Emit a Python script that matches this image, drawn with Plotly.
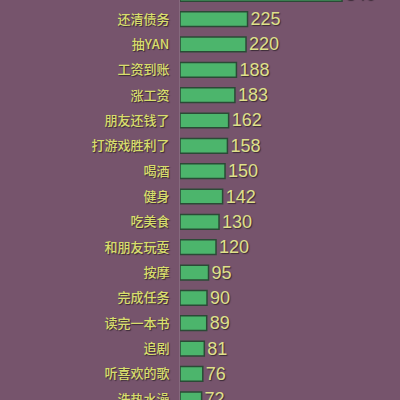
import plotly.graph_objects as go

categories = [" ", "还清债务", "抽YAN", "工资到账", "涨工资", "朋友还钱了", "打游戏胜利了", "喝酒", "健身",
              "吃美食", "和朋友玩耍", "按摩", "完成任务", "读完一本书", "追剧", "听喜欢的歌", "洗热水澡"]
values = [540, 225, 220, 188, 183, 162, 158, 150, 142, 130, 120, 95, 90, 89, 81, 76, 72]

text_colors = ["#e0a030"] + ["#dfe08a"] * (len(values) - 1)

fig = go.Figure(go.Bar(
    x=values, y=categories, orientation="h",
    marker=dict(color="#4cb56c", line=dict(color="#2b4a36", width=1.5)),
    width=0.58,
    text=[str(v) for v in values], textposition="outside", cliponaxis=True,
    constraintext="none",
    textfont=dict(family="Liberation Sans, Arial, sans-serif", size=18, color=text_colors,
                  shadow="1px 1px 1px #3a2a36"),
    hoverinfo="skip",
))

fig.update_layout(
    width=400, height=400,
    margin=dict(l=180, r=0, t=0, b=0, autoexpand=False),
    paper_bgcolor="#76546c", plot_bgcolor="#76546c",
    showlegend=False,
    xaxis=dict(range=[0, 733], showgrid=False, zeroline=False, showticklabels=False,
               fixedrange=True, automargin=False),
    yaxis=dict(type="category", range=[16.03, 0.245], autorange=False, showgrid=False,
               showline=True, linecolor="#85697d", linewidth=1, automargin=False,
               ticks="", ticklabelstandoff=7, fixedrange=True,
               tickfont=dict(family="Noto Sans CJK SC", size=13, color="#d8de6c",
                             weight=500, shadow="1px 1px 1px #3a2a36")),
)

fig.write_html("out.html", config={"displayModeBar": False},
               post_script="document.body.style.margin='0px';document.body.style.background='#76546c';")
